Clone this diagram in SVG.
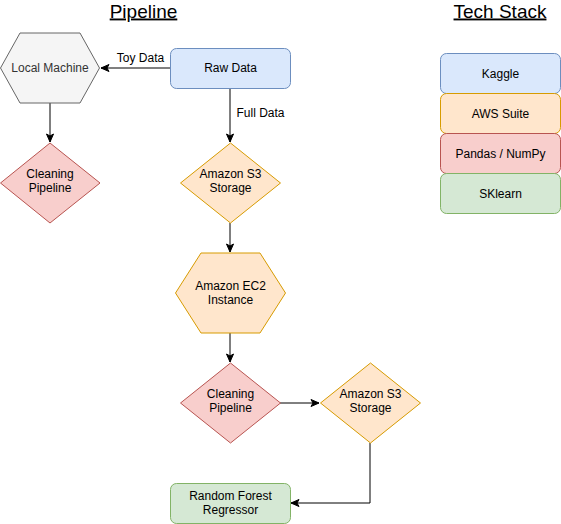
<svg xmlns="http://www.w3.org/2000/svg" width="561" height="524" viewBox="0 0 561 524">
<style>
text{font-family:"Liberation Sans",Arial,sans-serif;font-size:12px;fill:#000;text-anchor:middle}
.title{font-size:19px;text-decoration:underline}
.blue{fill:#dae8fc;stroke:#6c8ebf}
.orange{fill:#ffe6cc;stroke:#d79b00}
.red{fill:#f8cecc;stroke:#b85450}
.green{fill:#d5e8d4;stroke:#82b366}
.gray{fill:#f5f5f5;stroke:#666666}
.conn path{fill:none;stroke:#000;stroke-width:1;marker-end:url(#arr)}
</style>
<defs>
<marker id="arr" markerUnits="userSpaceOnUse" markerWidth="10" markerHeight="10" viewBox="0 0 10 10" refX="9" refY="5" orient="auto">
<path d="M1,1.5 L9,5 L1,8.5 L3,5 Z" fill="#000" stroke="#000" stroke-width="1"/>
</marker>
</defs>
<rect width="561" height="524" fill="#fff"/>
<text class="title" x="143.5" y="17.5">Pipeline</text>
<text class="title" x="500" y="17.5">Tech Stack</text>
<g class="conn" id="connectors">
<path d="M170,68 H101"/>
<path d="M50,103 V142"/>
<path d="M230,88 V142"/>
<path d="M230,223 V252"/>
<path d="M230,333 V362"/>
<path d="M280,403 H319"/>
<path d="M370,443 V503 H291"/>
<text x="140.5" y="62">Toy Data</text>
<text x="260.5" y="117">Full Data</text>
</g>
<g id="local-machine">
<polygon class="gray" points="0.5,68 20,33 80,33 99.5,68 80,103 20,103"/>
<text x="50" y="72" style="fill:#333333">Local Machine</text>
</g>
<g id="cleaning-1">
<polygon class="red" points="50,143 100,183 50,223 0.5,183"/>
<text x="50" y="177.5">Cleaning</text>
<text x="50" y="192">Pipeline</text>
</g>
<g id="raw-data">
<rect class="blue" x="170.5" y="48.5" width="120" height="40" rx="6"/>
<text x="230.5" y="72">Raw Data</text>
</g>
<g id="s3-1">
<polygon class="orange" points="230.5,143 280.5,183 230.5,223 180.5,183"/>
<text x="230.5" y="177.5">Amazon S3</text>
<text x="230.5" y="192">Storage</text>
</g>
<g id="ec2">
<polygon class="orange" points="175.5,293 201,253 260,253 285.5,293 260,333 201,333"/>
<text x="230.5" y="290">Amazon EC2</text>
<text x="230.5" y="304">Instance</text>
</g>
<g id="cleaning-2">
<polygon class="red" points="230.5,363 280.5,403 230.5,443 180.5,403"/>
<text x="230.5" y="398">Cleaning</text>
<text x="230.5" y="412">Pipeline</text>
</g>
<g id="s3-2">
<polygon class="orange" points="370.5,363 420.5,403 370.5,443 320.5,403"/>
<text x="370.5" y="398">Amazon S3</text>
<text x="370.5" y="412">Storage</text>
</g>
<g id="random-forest">
<rect class="green" x="170.5" y="483.5" width="120" height="40" rx="6"/>
<text x="230.5" y="500">Random Forest</text>
<text x="230.5" y="514">Regressor</text>
</g>
<g id="kaggle">
<rect class="blue" x="440.5" y="53.5" width="120" height="40" rx="6"/>
<text x="500.5" y="77.5">Kaggle</text>
</g>
<g id="aws">
<rect class="orange" x="440.5" y="93.5" width="120" height="40" rx="6"/>
<text x="500.5" y="117.5">AWS Suite</text>
</g>
<g id="pandas">
<rect class="red" x="440.5" y="133.5" width="120" height="40" rx="6"/>
<text x="500.5" y="157.5">Pandas / NumPy</text>
</g>
<g id="sklearn">
<rect class="green" x="440.5" y="173.5" width="120" height="40" rx="6"/>
<text x="500.5" y="197.5">SKlearn</text>
</g>
</svg>
